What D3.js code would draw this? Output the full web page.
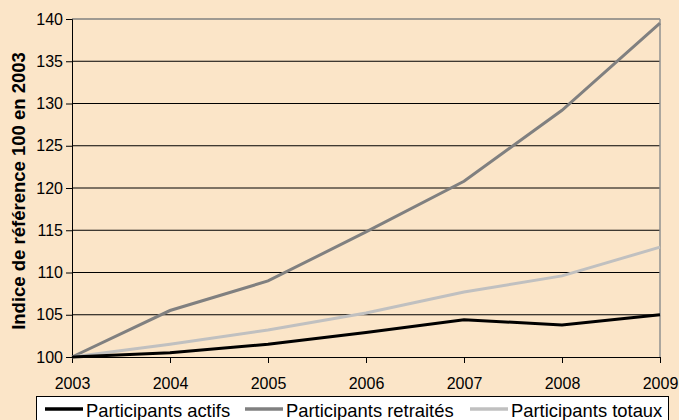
<!DOCTYPE html>
<html>
<head>
<meta charset="utf-8">
<script src="https://cdn.jsdelivr.net/npm/d3@7"></script>
<style>
  body { margin: 0; background: #fbe5c8; }
  svg { display: block; font-family: "Liberation Sans", Arial, sans-serif; }
</style>
</head>
<body>
<div id="chart"></div>
<script>
var years = [2003, 2004, 2005, 2006, 2007, 2008, 2009];
var actifs = [100, 100.5, 101.5, 102.9, 104.4, 103.8, 105.0];
var retraites = [100, 105.5, 109.0, 114.8, 120.8, 129.2, 139.5];
var totaux = [100, 101.5, 103.2, 105.2, 107.7, 109.6, 113.0];
var seriesNames = ["Participants actifs", "Participants retraités", "Participants totaux"];
var seriesColors = ["#000000", "#808080", "#c0c0c0"];
var yTicks = [100, 105, 110, 115, 120, 125, 130, 135, 140];

var width = 679, height = 420;
var margin = { top: 19, right: 19, bottom: 63, left: 72 };

const svg = d3.select("#chart").append("svg")
    .attr("width", width)
    .attr("height", height);

svg.append("rect").attr("width", width).attr("height", height).attr("fill", "#fbe5c8");

var x = d3.scaleLinear().domain([2003, 2009]).range([margin.left, width - margin.right]);
var y = d3.scaleLinear().domain([100, 140]).range([height - margin.bottom, margin.top]);

// horizontal gridlines
svg.append("g")
    .selectAll("line")
    .data(yTicks.slice(1))
    .enter().append("line")
    .attr("x1", x(2003)).attr("x2", x(2009))
    .attr("y1", d => y(d)).attr("y2", d => y(d))
    .attr("stroke", d => d === 140 ? "#808080" : "#000")
    .attr("stroke-width", d => d === 140 ? 1.5 : 1);

// right border
svg.append("line")
    .attr("x1", x(2009)).attr("x2", x(2009))
    .attr("y1", y(140)).attr("y2", y(100))
    .attr("stroke", "#909090").attr("stroke-width", 1.5);

// axes
const yAxis = svg.append("g")
    .attr("transform", `translate(${x(2003)},0)`)
    .call(d3.axisLeft(y).tickValues(yTicks).tickSize(6).tickPadding(3).tickFormat(d3.format("d")));
const xAxis = svg.append("g")
    .attr("transform", `translate(0,${y(100)})`)
    .call(d3.axisBottom(x).tickValues(years).tickSize(6).tickPadding(15).tickFormat(d3.format("d")));

[yAxis, xAxis].forEach(a => {
    a.select(".domain").attr("stroke", "#000");
    a.selectAll(".tick line").attr("stroke", "#000");
    a.selectAll("text").attr("font-size", 16).attr("fill", "#000")
        .attr("font-family", "'Liberation Sans', Arial, sans-serif");
});

// y title
svg.append("text")
    .attr("transform", `translate(25,${(y(100) + y(140)) / 2 + 3}) rotate(-90)`)
    .attr("text-anchor", "middle")
    .attr("font-size", 18.5)
    .attr("font-weight", "bold")
    .text("Indice de référence 100 en 2003");

// lines
var line = d3.line().x((d, i) => x(years[i])).y(d => y(d));
[retraites, totaux, actifs].forEach((s, k) => {
    var idx = [1, 2, 0][k];
    svg.append("path")
        .datum(s)
        .attr("fill", "none")
        .attr("stroke", seriesColors[idx])
        .attr("stroke-width", 3)
        .attr("d", line);
});

// legend
const legend = svg.append("g");
legend.append("rect")
    .attr("x", 36.5).attr("y", 396.5)
    .attr("width", 632).attr("height", 30)
    .attr("fill", "#fff").attr("stroke", "#000");
var legendX = [45, 245, 470];
seriesNames.forEach((name, i) => {
    legend.append("line")
        .attr("x1", legendX[i]).attr("x2", legendX[i] + 38)
        .attr("y1", 409).attr("y2", 409)
        .attr("stroke", seriesColors[i]).attr("stroke-width", 3.5);
    legend.append("text")
        .attr("x", legendX[i] + 41).attr("y", 417)
        .attr("font-size", 18.4)
        .text(name);
});
</script>
</body>
</html>
